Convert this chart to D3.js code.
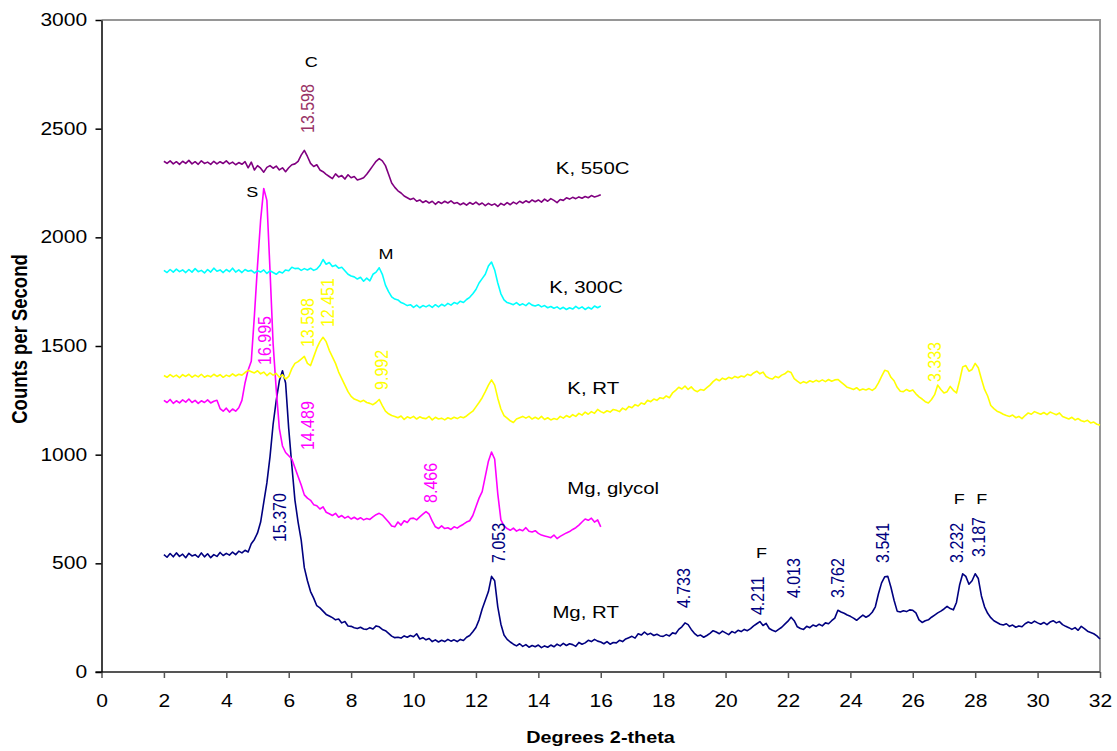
<!DOCTYPE html>
<html>
<head>
<meta charset="utf-8">
<script src="https://cdn.jsdelivr.net/npm/d3@7"></script>
<style>
  body { margin: 0; background: #fff; }
  text { font-family: "Liberation Sans", Arial, sans-serif; }
</style>
</head>
<body>
<svg id="chart" width="1117" height="751"></svg>
<script>
// Scans run from 2 degrees in 0.1 degree steps
var startAngle = 2, stepAngle = 0.1;

// Mg, RT (2 - 32 deg)
var mgRT = [
  540,528,545,530,548,532,542,526,546,534,
  540,528,548,530,544,526,540,532,550,536,
  546,538,552,540,556,548,560,552,590,610,
  640,690,780,870,990,1140,1250,1340,1386,1330,
  1120,950,790,690,607,480,420,370,340,305,
  295,280,265,258,250,240,244,226,232,212,
  210,204,200,206,198,196,204,198,212,208,
  196,190,178,165,158,160,156,166,160,168,
  162,176,152,158,148,154,140,148,138,146,
  140,150,142,148,140,150,145,160,168,185,
  205,240,290,330,370,440,420,300,220,170,
  150,138,128,120,130,118,126,114,122,116,
  124,112,120,114,124,116,128,120,132,122,
  130,126,118,136,128,134,146,140,150,142,
  138,130,140,128,136,134,146,140,152,158,
  164,156,176,170,184,172,178,168,174,166,
  164,172,166,180,176,196,208,226,218,196,
  178,166,170,160,168,178,190,184,176,188,
  180,172,186,180,192,186,196,190,200,212,
  222,232,214,224,200,192,186,196,206,220,
  234,252,236,208,200,196,210,204,216,210,
  220,212,226,222,236,248,284,276,270,262,
  256,248,238,250,262,252,260,275,300,360,
  410,438,440,390,330,280,276,282,278,286,
  284,272,240,228,236,240,252,262,272,280,
  290,302,292,286,320,400,452,440,404,420,
  452,430,350,300,270,250,236,228,220,216,
  222,210,216,206,212,208,222,230,224,234,
  226,220,228,218,230,236,226,232,218,210,
  204,196,204,192,210,200,188,182,176,166,
  152
];

// Mg, glycol (2 - 16 deg)
var mgGlycol = [
  1250,1240,1254,1236,1248,1238,1252,1242,1256,1240,
  1250,1236,1248,1240,1252,1238,1246,1250,1212,1200,
  1214,1196,1210,1200,1216,1250,1330,1390,1430,1640,
  1870,2080,2225,2170,1850,1510,1300,1120,1040,1010,
  995,980,940,900,860,815,800,790,770,765,
  750,760,735,728,720,730,712,720,708,716,
  704,712,702,710,700,706,702,714,724,730,
  722,706,690,672,668,690,676,696,688,706,
  708,700,714,726,738,726,694,668,660,672,
  660,664,656,668,662,672,680,690,696,720,
  760,800,830,900,970,1012,980,820,700,672,
  660,652,662,648,656,650,664,648,644,650,
  638,630,626,622,618,630,614,624,632,640,
  646,656,664,676,690,704,698,708,690,700,
  668
];

// K, RT (2 - 32 deg)
var kRT = [
  1364,1356,1368,1358,1366,1354,1368,1360,1370,1356,
  1366,1358,1370,1356,1364,1358,1370,1360,1368,1356,
  1366,1360,1372,1362,1370,1366,1378,1388,1382,1376,
  1386,1372,1380,1364,1376,1366,1374,1356,1368,1348,
  1360,1396,1420,1428,1440,1452,1420,1410,1450,1490,
  1520,1540,1520,1480,1450,1420,1380,1350,1320,1290,
  1268,1256,1250,1244,1250,1240,1236,1230,1240,1254,
  1226,1200,1188,1180,1176,1170,1178,1162,1174,1168,
  1176,1164,1174,1168,1166,1176,1160,1172,1164,1168,
  1160,1170,1164,1172,1166,1174,1170,1178,1190,1200,
  1220,1240,1262,1290,1320,1344,1320,1260,1210,1180,
  1168,1156,1148,1164,1170,1176,1168,1176,1164,1172,
  1164,1176,1162,1170,1160,1166,1162,1176,1168,1180,
  1172,1184,1176,1190,1182,1196,1186,1198,1190,1208,
  1198,1192,1202,1196,1208,1204,1198,1214,1206,1222,
  1216,1230,1224,1238,1232,1250,1244,1256,1250,1262,
  1258,1270,1262,1284,1296,1310,1302,1316,1300,1312,
  1296,1290,1300,1296,1308,1320,1336,1348,1340,1352,
  1346,1356,1350,1360,1354,1362,1358,1370,1364,1376,
  1384,1372,1380,1360,1352,1348,1360,1354,1366,1372,
  1384,1378,1350,1338,1328,1336,1330,1340,1334,1342,
  1336,1344,1336,1346,1338,1344,1346,1334,1322,1310,
  1306,1300,1308,1296,1302,1298,1304,1296,1306,1330,
  1360,1388,1384,1356,1340,1310,1292,1290,1300,1292,
  1298,1280,1266,1256,1244,1238,1254,1276,1320,1300,
  1284,1290,1314,1296,1284,1340,1404,1410,1384,1392,
  1420,1400,1348,1300,1270,1226,1212,1200,1194,1186,
  1180,1176,1182,1170,1176,1166,1180,1192,1186,1198,
  1192,1186,1194,1184,1196,1190,1184,1192,1176,1170,
  1164,1172,1160,1166,1156,1152,1158,1146,1150,1140,
  1136
];

// K, 300C (2 - 16 deg)
var k300 = [
  1848,1838,1852,1840,1854,1842,1850,1838,1852,1840,
  1856,1842,1848,1836,1852,1840,1858,1844,1850,1838,
  1852,1842,1858,1840,1850,1838,1852,1844,1848,1836,
  1846,1840,1850,1834,1846,1838,1830,1842,1836,1850,
  1846,1862,1856,1858,1848,1856,1850,1858,1848,1854,
  1870,1898,1876,1884,1866,1872,1858,1862,1846,1830,
  1822,1818,1808,1816,1798,1812,1800,1830,1840,1860,
  1830,1780,1750,1726,1716,1712,1700,1694,1686,1690,
  1678,1688,1676,1686,1680,1688,1678,1690,1680,1692,
  1684,1696,1688,1700,1694,1706,1700,1714,1724,1740,
  1760,1790,1810,1830,1868,1886,1850,1790,1740,1712,
  1700,1696,1690,1700,1688,1694,1686,1698,1688,1684,
  1690,1680,1686,1676,1682,1674,1680,1670,1678,1668,
  1676,1670,1682,1672,1680,1668,1678,1670,1684,1676,
  1684
];

// K, 550C (2 - 16 deg)
var k550 = [
  2350,2340,2352,2338,2348,2336,2350,2340,2354,2338,
  2348,2336,2352,2340,2346,2336,2350,2338,2348,2340,
  2352,2338,2346,2334,2344,2336,2348,2320,2346,2310,
  2330,2318,2300,2322,2330,2318,2328,2310,2320,2302,
  2320,2334,2338,2350,2378,2400,2372,2340,2326,2334,
  2310,2302,2290,2280,2270,2292,2278,2284,2268,2288,
  2274,2280,2264,2268,2274,2290,2310,2330,2350,2362,
  2352,2330,2290,2250,2230,2214,2204,2190,2182,2174,
  2180,2166,2172,2160,2168,2158,2166,2152,2164,2156,
  2166,2158,2168,2156,2160,2150,2158,2148,2160,2152,
  2162,2150,2158,2146,2156,2148,2154,2142,2156,2148,
  2160,2150,2162,2154,2166,2158,2168,2160,2172,2164,
  2172,2162,2176,2166,2178,2170,2160,2174,2170,2182,
  2176,2184,2178,2186,2180,2188,2182,2192,2186,2190,
  2196
];

// Series names and their label anchors [angle, counts]
var seriesKeys   = ["mgRT", "mgGlycol", "kRT", "k300", "k550"];
var seriesNames  = ["Mg, RT", "Mg, glycol", "K, RT", "K, 300C", "K, 550C"];
var seriesValues = [mgRT, mgGlycol, kRT, k300, k550];
var seriesLabelAt = [[14.45, 277], [14.93, 845], [14.93, 1305], [14.35, 1773], [14.56, 2320]];

// d-spacing labels: [series, angle, counts at foot of label, text]
var peakLabels = [
  ["k550", 6.59, 2480, "13.598"],
  ["mgGlycol", 5.22, 1413, "16.995"],
  ["kRT", 6.58, 1495, "13.598"],
  ["kRT", 7.22, 1587, "12.451"],
  ["kRT", 8.96, 1298, "9.992"],
  ["kRT", 26.69, 1334, "3.333"],
  ["mgGlycol", 6.61, 1021, "14.489"],
  ["mgGlycol", 10.53, 778, "8.466"],
  ["mgRT", 5.70, 598, "15.370"],
  ["mgRT", 12.70, 502, "7.053"],
  ["mgRT", 18.65, 294, "4.733"],
  ["mgRT", 21.01, 262, "4.211"],
  ["mgRT", 22.18, 340, "4.013"],
  ["mgRT", 23.58, 340, "3.762"],
  ["mgRT", 25.01, 502, "3.541"],
  ["mgRT", 27.41, 502, "3.232"],
  ["mgRT", 28.10, 529, "3.187"]
];

// Mineral letters: [angle, counts, text]
var mineralLabels = [
  [6.72, 2807, "C"], [4.83, 2209, "S"], [9.12, 1926, "M"],
  [21.15, 548, "F"], [27.49, 796, "F"], [28.21, 796, "F"]
];

var xTicks = d3.range(0, 33, 2);
var yTicks = d3.range(0, 3001, 500);

var seriesColor = { mgRT: "#000080", mgGlycol: "#ff00ff", kRT: "#ffff00", k300: "#00ffff", k550: "#800080" };
var labelColor  = { mgRT: "#000080", mgGlycol: "#ff00ff", kRT: "#ffff00", k300: "#00ffff", k550: "#993366" };

// text in the picture is drawn a little wide
var SX = 1.2;

var svg = d3.select("#chart");
var x = d3.scaleLinear().domain([0, 32]).range([101.5, 1100]);
var y = d3.scaleLinear().domain([0, 3000]).range([672, 20]);

function place(sel, px, py, rot) {
    return sel.attr("transform", "translate(" + px + "," + py + ") scale(" + SX + ",1)" + (rot ? " rotate(" + rot + ")" : ""));
}

// plot frame (top and right)
svg.append("path")
    .attr("d", "M" + x(0) + "," + y(3000) + "H" + x(32) + "V" + y(0))
    .attr("fill", "none")
    .attr("stroke", "#969696")
    .attr("stroke-width", 2);

// lines
var line = d3.line()
    .x(function (d, i) { return x(startAngle + i * stepAngle); })
    .y(function (d) { return y(d); });

seriesKeys.forEach(function (key, k) {
    svg.append("path")
        .attr("class", "line")
        .attr("d", line(seriesValues[k]))
        .attr("fill", "none")
        .attr("stroke", seriesColor[key])
        .attr("stroke-width", 1.6)
        .attr("stroke-linejoin", "round");
});

// axes
var xAxis = svg.append("g")
    .attr("transform", "translate(0," + y(0) + ")")
    .call(d3.axisBottom(x).tickValues(xTicks).tickSize(6).tickSizeOuter(0).tickPadding(17));
xAxis.select(".domain").attr("stroke", "#555").attr("stroke-width", 2)
    .attr("d", "M" + (x(0) - 6) + ",0H" + x(32));
xAxis.selectAll(".tick line").attr("stroke", "#555").attr("stroke-width", 1.5);

var yAxis = svg.append("g")
    .attr("transform", "translate(" + x(0) + ",0)")
    .call(d3.axisLeft(y).tickValues(yTicks).tickFormat(d3.format("d")).tickSize(6).tickSizeOuter(0).tickPadding(6));
yAxis.select(".domain").attr("stroke", "#000").attr("stroke-width", 1.5);
yAxis.selectAll(".tick line").attr("stroke", "#000").attr("stroke-width", 1.5);

svg.selectAll(".tick text")
    .attr("transform", "scale(" + SX + ",1)")
    .style("font-family", "'Liberation Sans', Arial, sans-serif")
    .style("font-size", "17.5px")
    .attr("fill", "#000");

// axis titles
place(svg.append("text"), 600.5, 742.5)
    .attr("text-anchor", "middle")
    .style("font-size", "16.5px")
    .style("font-weight", "bold")
    .text("Degrees 2-theta");

place(svg.append("text"), 27, 339, -90)
    .attr("text-anchor", "middle")
    .style("font-size", "18.5px")
    .style("font-weight", "bold")
    .text("Counts per Second");

// series names
seriesNames.forEach(function (name, k) {
    place(svg.append("text"), x(seriesLabelAt[k][0]), y(seriesLabelAt[k][1]))
        .attr("dy", "0.35em")
        .style("font-size", "17px")
        .text(name);
});

// d-spacings, read upward
peakLabels.forEach(function (d) {
    place(svg.append("text"), x(d[1]), y(d[2]), -90)
        .attr("dy", "0.35em")
        .attr("fill", labelColor[d[0]])
        .style("font-size", "16px")
        .text(d[3]);
});

mineralLabels.forEach(function (d) {
    place(svg.append("text"), x(d[0]), y(d[1]))
        .attr("text-anchor", "middle")
        .attr("dy", "0.35em")
        .style("font-size", "15px")
        .text(d[2]);
});
</script>
</body>
</html>
